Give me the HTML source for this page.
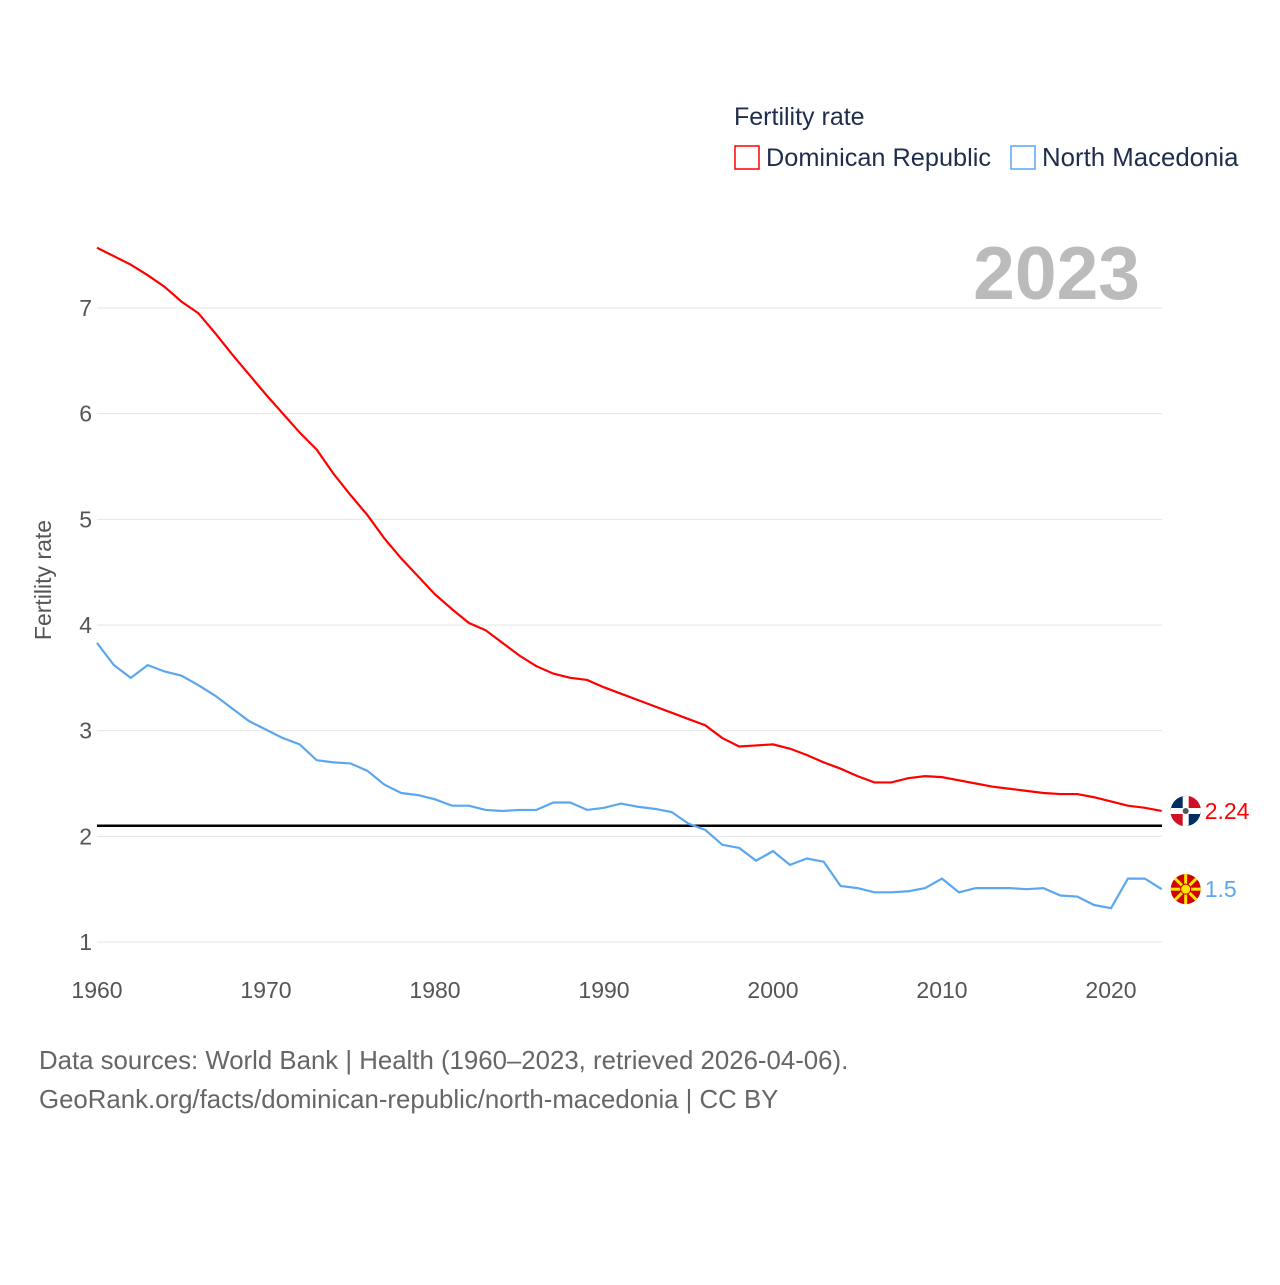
<!DOCTYPE html>
<html><head><meta charset="utf-8"><style>
body{margin:0;background:#fff;width:1280px;height:1280px;overflow:hidden;font-family:"Liberation Sans",sans-serif}
svg text{font-family:"Liberation Sans",sans-serif}
</style></head><body>
<svg id="chart" width="1280" height="1280">
<text x="734" y="125" font-size="25" fill="#1f2d4d">Fertility rate</text>
<rect x="735" y="146" width="24" height="23" fill="none" stroke="#f00" stroke-width="1.5"/>
<text x="766" y="166" font-size="25.3" fill="#1f2d4d">Dominican Republic</text>
<rect x="1011" y="146" width="24" height="23" fill="none" stroke="#5ba7ef" stroke-width="1.5"/>
<text x="1042" y="166" font-size="25.8" fill="#1f2d4d">North Macedonia</text>
<text x="1140" y="299" font-size="75" font-weight="bold" fill="#bbb" text-anchor="end">2023</text>
<text transform="translate(51,580) rotate(-90)" font-size="23" fill="#555" text-anchor="middle">Fertility rate</text>
<g id="grid"></g><g id="series"></g>
<text x="39" y="1069" font-size="25.8" fill="#666">Data sources: World Bank | Health (1960–2023, retrieved 2026-04-06).</text>
<text x="39" y="1108" font-size="25.8" fill="#666">GeoRank.org/facts/dominican-republic/north-macedonia | CC BY</text>
</svg>
<script>
const years=[];for(let y=1960;y<=2023;y++)years.push(y);
const yTicks=[1,2,3,4,5,6,7];
const xTicks=[1960,1970,1980,1990,2000,2010,2020];
const replacementRate=2.1;
const dominican=[7.57,7.49,7.41,7.31,7.20,7.06,6.95,6.76,6.56,6.37,6.18,6.00,5.82,5.66,5.43,5.23,5.04,4.82,4.63,4.46,4.29,4.15,4.02,3.95,3.83,3.71,3.61,3.54,3.50,3.48,3.41,3.35,3.29,3.23,3.17,3.11,3.05,2.93,2.85,2.86,2.87,2.83,2.77,2.70,2.64,2.57,2.51,2.51,2.55,2.57,2.56,2.53,2.50,2.47,2.45,2.43,2.41,2.40,2.40,2.37,2.33,2.29,2.27,2.24];
const macedonia=[3.83,3.62,3.50,3.62,3.56,3.52,3.43,3.33,3.21,3.09,3.01,2.93,2.87,2.72,2.70,2.69,2.62,2.49,2.41,2.39,2.35,2.29,2.29,2.25,2.24,2.25,2.25,2.32,2.32,2.25,2.27,2.31,2.28,2.26,2.23,2.12,2.06,1.92,1.89,1.77,1.86,1.73,1.79,1.76,1.53,1.51,1.47,1.47,1.48,1.51,1.60,1.47,1.51,1.51,1.51,1.50,1.51,1.44,1.43,1.35,1.32,1.60,1.60,1.50];
const NS="http://www.w3.org/2000/svg";
const X=y=>97+(y-1960)*(1014/60);
const Y=v=>942-(v-1)*105.67;
function mk(tag,attrs,parent){const e=document.createElementNS(NS,tag);for(const k in attrs)e.setAttribute(k,attrs[k]);parent.appendChild(e);return e;}
const grid=document.getElementById('grid'),ser=document.getElementById('series');
yTicks.forEach(t=>{
 const l=mk('line',{x1:97,x2:1162,y1:Y(t),y2:Y(t),stroke:'#e6e6e6'},grid);
 
 
 const tx=mk('text',{x:92,y:Y(t)+8,'font-size':23,fill:'#555','text-anchor':'end'},grid);tx.textContent=t;
 
 
});
xTicks.forEach(t=>{
 const tx=mk('text',{x:X(t),y:998,'font-size':23,fill:'#555','text-anchor':'middle'},grid);tx.textContent=t;
 
 
});
const rl=mk('line',{x1:97,x2:1162,y1:Y(replacementRate),y2:Y(replacementRate),stroke:'#000','stroke-width':2.5},ser);


function line(data,color,name){
 const p=mk('polyline',{points:data.map((v,i)=>X(years[i])+','+Y(v)).join(' '),fill:'none',stroke:color,'stroke-width':2.2},ser);
 
 
}
line(dominican,'#f00','line-dominican-republic');
line(macedonia,'#5ba7ef','line-north-macedonia');
function endLabel(data,color,name,kind){
 const v=data[data.length-1],x=X(2023)+24,y=Y(v);
 const g=mk('g',{},ser);
 
 
 if(kind==='do'){
  mk('circle',{cx:x,cy:y,r:15,fill:'#fff'},g);
  mk('path',{d:`M${x-15} ${y} A15 15 0 0 1 ${x} ${y-15} L${x-3} ${y-15} L${x-3} ${y-3} L${x-15} ${y-3}Z`,fill:'#002d62'},g);
  mk('path',{d:`M${x+15} ${y} A15 15 0 0 1 ${x} ${y+15} L${x+3} ${y+15} L${x+3} ${y+3} L${x+15} ${y+3}Z`,fill:'#002d62'},g);
  mk('path',{d:`M${x+3} ${y-15} A15 15 0 0 1 ${x+15} ${y-3} L${x+3} ${y-3}Z`,fill:'#ce1126'},g);
  mk('path',{d:`M${x-3} ${y+15} A15 15 0 0 1 ${x-15} ${y+3} L${x-3} ${y+3}Z`,fill:'#ce1126'},g);
  mk('circle',{cx:x,cy:y,r:3,fill:'#555'},g);
 }else{
  mk('circle',{cx:x,cy:y,r:15,fill:'#d20000'},g);
  for(let a=0;a<8;a++){const t=a*Math.PI/4;mk('line',{x1:x,y1:y,x2:x+15*Math.cos(t),y2:y+15*Math.sin(t),stroke:'#ffe600','stroke-width':3},g);}
  mk('circle',{cx:x,cy:y,r:5,fill:'#ffe600',stroke:'#d20000','stroke-width':1},g);
 }
 const t=mk('text',{x:x+19,y:y+8,'font-size':23,fill:color},ser);t.textContent=v;
 
 
}
endLabel(dominican,'#f00','dominican-republic','do');
endLabel(macedonia,'#5ba7ef','north-macedonia','mk');
</script>
</body></html>
